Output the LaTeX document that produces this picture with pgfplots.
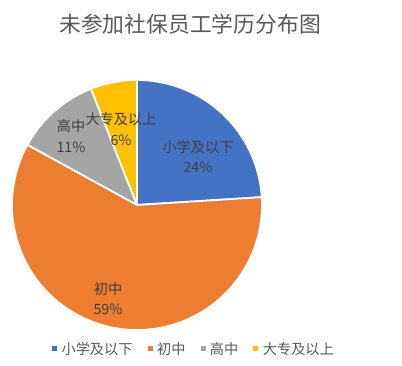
\documentclass[border=0pt]{standalone}
\usepackage{pgfplots}
\pgfplotsset{compat=1.18}
\usepackage{fontspec}
\setmainfont{Noto Sans CJK SC}
\definecolor{cA}{HTML}{4472C4}
\definecolor{cB}{HTML}{ED7D31}
\definecolor{cC}{HTML}{A5A5A5}
\definecolor{cD}{HTML}{FFC000}
\definecolor{lbl}{HTML}{404040}
\definecolor{ttl}{HTML}{595959}
% slice boundaries (degrees clockwise from 12 o'clock): 24%, 59%, 11%, 6%
\def\cx{137}\def\cy{161}\def\r{125}
\begin{document}
\begin{tikzpicture}
\begin{axis}[axis line style={draw=none}, xtick=\empty, ytick=\empty,
  scale only axis, width=402pt, height=366pt,
  xmin=0, xmax=402, ymin=0, ymax=366, clip=false,
  legend columns=4,
  legend style={at={(axis cs:194,17)}, anchor=center, draw=none, fill=none,
    font=\fontsize{14.2}{15}\selectfont\color{ttl},
    /tikz/every even column/.append style={column sep=13pt},
    /tikz/every odd column/.append style={column sep=2.5pt}},
  legend image code/.code={\fill[#1, draw=none] (0pt,-2.5pt) rectangle (5pt,2.5pt);},
  every axis plot/.append style={draw=white, line width=1.8pt, line join=round}]
\addplot[fill=cA, domain=0:86.4, samples=60, variable=\t]
  ({\cx+\r*sin(\t)}, {\cy+\r*cos(\t)}) -- (axis cs:\cx,\cy) -- cycle;
\addlegendentry{小学及以下}
\addplot[fill=cB, domain=86.4:298.8, samples=120, variable=\t]
  ({\cx+\r*sin(\t)}, {\cy+\r*cos(\t)}) -- (axis cs:\cx,\cy) -- cycle;
\addlegendentry{初中}
\addplot[fill=cC, domain=298.8:338.4, samples=30, variable=\t]
  ({\cx+\r*sin(\t)}, {\cy+\r*cos(\t)}) -- (axis cs:\cx,\cy) -- cycle;
\addlegendentry{高中}
\addplot[fill=cD, domain=338.4:360, samples=20, variable=\t]
  ({\cx+\r*sin(\t)}, {\cy+\r*cos(\t)}) -- (axis cs:\cx,\cy) -- cycle;
\addlegendentry{大专及以上}
\begin{scope}[every node/.style={text=lbl, font=\fontsize{14.2}{15}\selectfont, inner sep=0pt}]
\node at (axis cs:198,219) {小学及以下};
\node at (axis cs:198,199) {24\%};
\node at (axis cs:108,77) {初中};
\node at (axis cs:108,57) {59\%};
\node at (axis cs:71,240) {高中};
\node at (axis cs:71,219) {11\%};
\node at (axis cs:121,247) {大专及以上};
\node at (axis cs:121,226) {6\%};
\end{scope}
\node[text=ttl, font=\fontsize{21.8}{23}\selectfont, inner sep=0pt] at (axis cs:190,342) {未参加社保员工学历分布图};
\end{axis}
\end{tikzpicture}
\end{document}
